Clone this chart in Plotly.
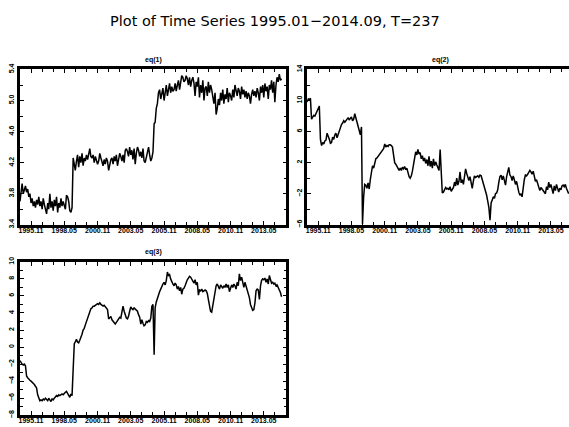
import pandas as pd
import plotly.graph_objects as go

# Monthly sample 1995.01 - 2014.09 (T = 237)
START = "1995-01-01"
N_OBS = 237

eq1 = [
    3.70, 3.85, 3.93, 3.80, 3.86, 3.90, 3.82, 3.86, 3.76, 3.80, 3.68, 3.74,
    3.64, 3.70, 3.62, 3.72, 3.66, 3.76, 3.64, 3.70, 3.60, 3.74, 3.66, 3.58,
    3.54, 3.68, 3.60, 3.80, 3.62, 3.70, 3.58, 3.72, 3.64, 3.76, 3.56, 3.68,
    3.62, 3.74, 3.64, 3.70, 3.66, 3.60, 3.78, 3.76, 3.70, 3.58, 3.56, 3.62,
    4.26, 4.18, 4.10, 4.22, 4.30, 4.14, 4.28, 4.20, 4.32, 4.16, 4.26, 4.22,
    4.30, 4.24, 4.34, 4.38, 4.28, 4.26, 4.30, 4.20, 4.28, 4.24, 4.18, 4.22,
    4.32, 4.26, 4.20, 4.16, 4.24, 4.18, 4.26, 4.22, 4.10, 4.20, 4.24, 4.26,
    4.18, 4.28, 4.22, 4.30, 4.16, 4.24, 4.32, 4.28, 4.22, 4.30, 4.20, 4.36,
    4.38, 4.34, 4.28, 4.40, 4.30, 4.36, 4.24, 4.38, 4.18, 4.32, 4.40, 4.36,
    4.28, 4.34, 4.26, 4.38, 4.22, 4.20, 4.28, 4.36, 4.40, 4.30, 4.22, 4.26,
    4.34, 4.70, 4.72, 4.90, 4.96, 5.10, 5.14, 5.02, 5.08, 5.16, 5.00, 5.12,
    5.20, 5.06, 5.14, 5.22, 5.10, 5.18, 5.12, 5.14, 5.22, 5.12, 5.20, 5.26,
    5.14, 5.22, 5.32, 5.30, 5.24, 5.26, 5.32, 5.28, 5.20, 5.30, 5.18, 5.26,
    5.30, 5.22, 5.06, 5.24, 5.18, 5.30, 5.04, 5.20, 5.10, 5.26, 5.00, 5.16,
    5.18, 5.06, 5.24, 5.10, 5.20, 5.14, 5.04, 4.96, 5.10, 4.82, 4.90, 5.02,
    4.94, 5.10, 5.00, 5.14, 4.96, 5.08, 5.02, 5.16, 4.98, 5.10, 5.06, 5.00,
    5.14, 5.04, 5.20, 5.10, 5.06, 5.16, 5.12, 5.02, 5.18, 5.08, 5.14, 5.04,
    5.12, 5.02, 5.10, 5.06, 4.96, 5.08, 5.14, 5.06, 5.12, 5.04, 5.16, 5.10,
    5.00, 5.18, 5.10, 5.20, 5.04, 5.22, 5.12, 5.18, 5.02, 5.20, 5.14, 5.26,
    5.10, 5.24, 4.98, 5.20, 5.30, 5.24, 5.34, 5.26, 5.28,
]

eq2 = [
    9.8, 10.2, 10.1, 10.3, 7.6, 7.8, 8.1, 8.0, 8.3, 8.5, 8.8, 9.3,
    5.0, 4.2, 4.6, 4.4, 4.8, 4.9, 5.8, 5.2, 5.0, 4.5, 4.6, 5.3,
    5.0, 5.6, 5.8, 5.2, 5.6, 6.0, 6.6, 6.9, 7.1, 7.4, 7.2, 7.5,
    7.6, 7.8, 7.5, 7.7, 7.9, 7.4, 7.6, 8.3, 7.8, 7.2, 6.6, 6.2,
    5.6, 6.6, -5.9, -2.4, -0.8, -0.9, -1.3, -0.6, -1.4, -0.2, 0.9, 1.6,
    1.3, 1.8, 2.5, 2.6, 2.8, 3.0, 3.2, 3.4, 3.6, 3.8, 4.4, 4.0,
    4.2, 4.1, 4.3, 4.3, 4.2, 4.0, 3.0, 2.0, 1.8, 1.5, 1.3, 1.0,
    1.3, 1.0, 1.4, 1.2, 1.5, 1.1, 1.3, 0.6, 0.2, 0.0, 0.3, 0.9,
    1.8, 2.6, 3.4, 3.0, 3.7, 3.1, 3.3, 2.5, 2.9, 2.2, 2.6, 1.9,
    2.4, 1.6, 2.8, 1.5, 2.2, 1.3, 2.5, 1.6, 2.1, 1.7, 1.2, 1.0,
    3.7, 0.5, -1.9, -1.8, -1.5, -1.2, -1.4, -1.3, -1.5, -1.1, -1.7, -1.4,
    -1.2, -0.5, -1.0, 0.0, -0.9, -0.4, 0.8, -0.6, -0.2, -0.8, 0.3, 1.2,
    0.6, 0.0, -0.3, 0.2, -0.5, -1.3, -0.4, 0.3, 0.1, 0.2, 0.3, 0.1,
    0.4, 0.3, -0.2, -0.6, -1.0, -1.5, -2.2, -3.0, -3.8, -5.4, -3.2, -2.8,
    -2.4, -2.6, -2.0, -1.9, -1.5, -0.5, 0.2, 0.4, -0.2, 0.3, -0.6, -0.9,
    0.2, 0.8, 1.4, 0.4, 0.2, -0.3, 0.3, -0.2, -0.8, -0.4, -1.2, -1.8,
    -2.2, -2.0, -2.4, -1.0, -0.2, 0.4, 0.3, 0.5, 0.8, 1.0, 0.8, 0.5,
    0.9, 0.2, -0.4, -0.2, -0.7, -1.4, -1.6, -1.2, -1.4, -1.5, -1.8, -2.0,
    -1.1, -1.5, -0.5, -1.2, -0.8, -1.5, -2.0, -1.0, -1.6, -0.8, -1.4, -1.8,
    -1.3, -1.5, -1.0, -0.9, -1.1, -0.8, -1.3, -1.8, -2.0,
]

eq3 = [
    -1.6, -1.9, -2.0, -2.1, -2.0, -2.2, -3.4, -3.6, -3.8, -3.9, -4.0, -4.1,
    -4.2, -4.4, -4.6, -4.8, -5.6, -6.1, -6.3, -6.2, -6.3, -6.1, -6.2, -6.0,
    -6.1, -6.3, -6.0, -6.2, -6.4, -6.1, -6.2, -6.0, -5.9, -5.7, -5.8, -5.6,
    -5.7, -5.6, -5.5, -5.6, -5.4, -5.3, -5.2, -5.4, -5.6, -5.9, -5.5, -5.7,
    -2.6, 0.4, 0.6, 0.9, 0.6, 0.5, 0.8, 1.1, 1.5, 2.0, 2.2, 2.6,
    3.0, 3.4, 3.9, 4.3, 4.5, 4.6, 4.8, 4.8, 4.9, 5.0, 5.1, 5.0,
    5.2, 5.0, 4.9, 4.8, 4.9, 4.7, 4.6, 4.4, 3.3, 3.5, 3.6, 3.2,
    3.0, 2.8, 2.7, 2.9, 3.1, 3.4, 3.5, 3.4, 4.0, 4.8, 4.2, 3.6,
    3.4, 3.3, 3.6, 4.2, 4.7, 4.5, 4.4, 4.6, 4.5, 4.3, 4.2, 3.8,
    3.5, 2.7, 3.2, 2.8, 2.5, 2.6, 3.0, 2.9, 3.1, 3.0, 3.4, 4.8,
    5.0, -0.9, 4.6, 5.3, 5.8, 6.2, 6.5, 6.8, 7.2, 7.4, 7.6, 7.3,
    7.8, 8.8, 8.4, 8.5, 8.0, 7.6, 7.4, 7.2, 7.5, 7.3, 6.8, 7.1,
    6.6, 7.0, 6.2, 6.8, 6.9, 7.2, 7.6, 7.9, 8.1, 8.3, 8.2, 8.0,
    7.8, 7.5, 7.9, 7.3, 7.6, 6.1, 6.7, 6.6, 6.8, 6.5, 6.6, 6.7,
    6.6, 6.3, 5.6, 4.8, 4.2, 4.1, 5.0, 5.9, 6.6, 7.2, 7.4, 7.1,
    6.8, 7.3, 7.0, 6.9, 7.2, 7.0, 7.4, 7.0, 7.3, 6.5, 6.9, 7.3,
    7.0, 7.4, 7.2, 6.8, 7.6, 7.2, 8.6, 7.8, 8.2, 7.5, 7.0, 7.6,
    7.2, 6.8, 6.4, 5.8, 5.0, 4.5, 4.3, 4.4, 5.2, 6.6, 6.8, 6.7,
    5.6, 7.2, 7.8, 8.0, 7.9, 8.1, 7.6, 8.0, 7.4, 8.4, 7.8, 7.5,
    7.6, 7.4, 7.5, 7.2, 7.3, 7.0, 6.8, 6.4, 5.9,
]

x_tick_dates = ["1995-11-01", "1998-05-01", "2000-11-01", "2003-05-01",
                "2005-11-01", "2008-05-01", "2010-11-01", "2013-05-01"]
x_tick_text = ["1995.11", "1998.05", "2000.11", "2003.05",
               "2005.11", "2008.05", "2010.11", "2013.05"]

titles = ["eq(1)", "eq(2)", "eq(3)"]
y_ranges = [[3.4, 5.4], [-6, 14], [-8, 10]]
y_dticks = [0.4, 4, 2]
y_minor = [0.2, 2, 1]
y_formats = [".1f", "d", "d"]

dates = pd.date_range(START, periods=N_OBS, freq="MS")

W, H = 569, 427
PANEL_W = 267


def px_x(p):
    return p / W


def px_y(p):
    return 1 - p / H


# panel boxes in pixels: (left, right, top, bottom); eq(2) runs off the right edge
boxes = [(19, 286, 65, 224), (306.7, 569, 65, 224), (19, 286, 262, 419)]
x_end = ["2015-01-15", "2014-09-10", "2015-01-15"]

fig = go.Figure()
series = [eq1, eq2, eq3]
FONT = "Liberation Sans"
TICKFONT = dict(family=FONT, size=7, color="#000000", weight="bold")

for i, (vals, box) in enumerate(zip(series, boxes)):
    n = i + 1
    suffix = "" if n == 1 else str(n)
    fig.add_trace(go.Scatter(
        x=dates, y=vals, mode="lines",
        line=dict(color="black", width=1.5),
        xaxis="x" + suffix, yaxis="y" + suffix,
        showlegend=False, hoverinfo="skip",
    ))
    l, r, t, b = box
    full_frame = n != 2
    fig.layout["xaxis" + suffix] = dict(
        domain=[px_x(l), px_x(r)],
        anchor="y" + suffix,
        range=["1995-01-01", x_end[i]],
        tickmode="array", tickvals=x_tick_dates, ticktext=x_tick_text,
        ticks="inside", ticklen=4, tickwidth=1, tickcolor="black",
        minor=dict(ticks="inside", ticklen=3, tickwidth=1, tickcolor="black",
                   dtick="M10", tick0="1995-11-01"),
        showline=True, linecolor="black", linewidth=2.5, mirror="ticks",
        showgrid=False, zeroline=False,
        tickfont=TICKFONT, tickangle=0, ticklabelstandoff=-3,
    )
    fig.layout["yaxis" + suffix] = dict(
        domain=[px_y(b), px_y(t)],
        anchor="x" + suffix,
        range=y_ranges[i], dtick=y_dticks[i], tick0=y_ranges[i][0],
        tickformat=y_formats[i],
        ticks="inside", ticklen=4, tickwidth=1, tickcolor="black",
        minor=dict(ticks="inside", ticklen=3, tickwidth=1, tickcolor="black",
                   dtick=y_minor[i], tick0=y_ranges[i][0]),
        showline=True, linecolor="black", linewidth=2.5,
        mirror="ticks" if full_frame else False,
        showgrid=False, zeroline=False,
        tickfont=TICKFONT, tickangle=-90, ticklabelstandoff=0,
    )
    fig.add_annotation(
        text=titles[i], x=px_x(l + PANEL_W / 2), y=px_y(t - 10),
        xref="paper", yref="paper", showarrow=False,
        font=dict(family=FONT, size=7, color="#000000", weight="bold"),
        xanchor="center", yanchor="middle",
    )

fig.add_annotation(
    text="Plot of Time Series 1995.01\u22122014.09, T=237",
    x=px_x(274), y=px_y(15), xref="paper", yref="paper", showarrow=False,
    font=dict(family="DejaVu Sans", size=14.5, color="#000000"),
    xanchor="center", yanchor="middle",
)

fig.update_layout(
    width=W, height=H,
    margin=dict(l=0, r=0, t=0, b=0),
    paper_bgcolor="white", plot_bgcolor="white",
)

fig.write_html("out.html")
